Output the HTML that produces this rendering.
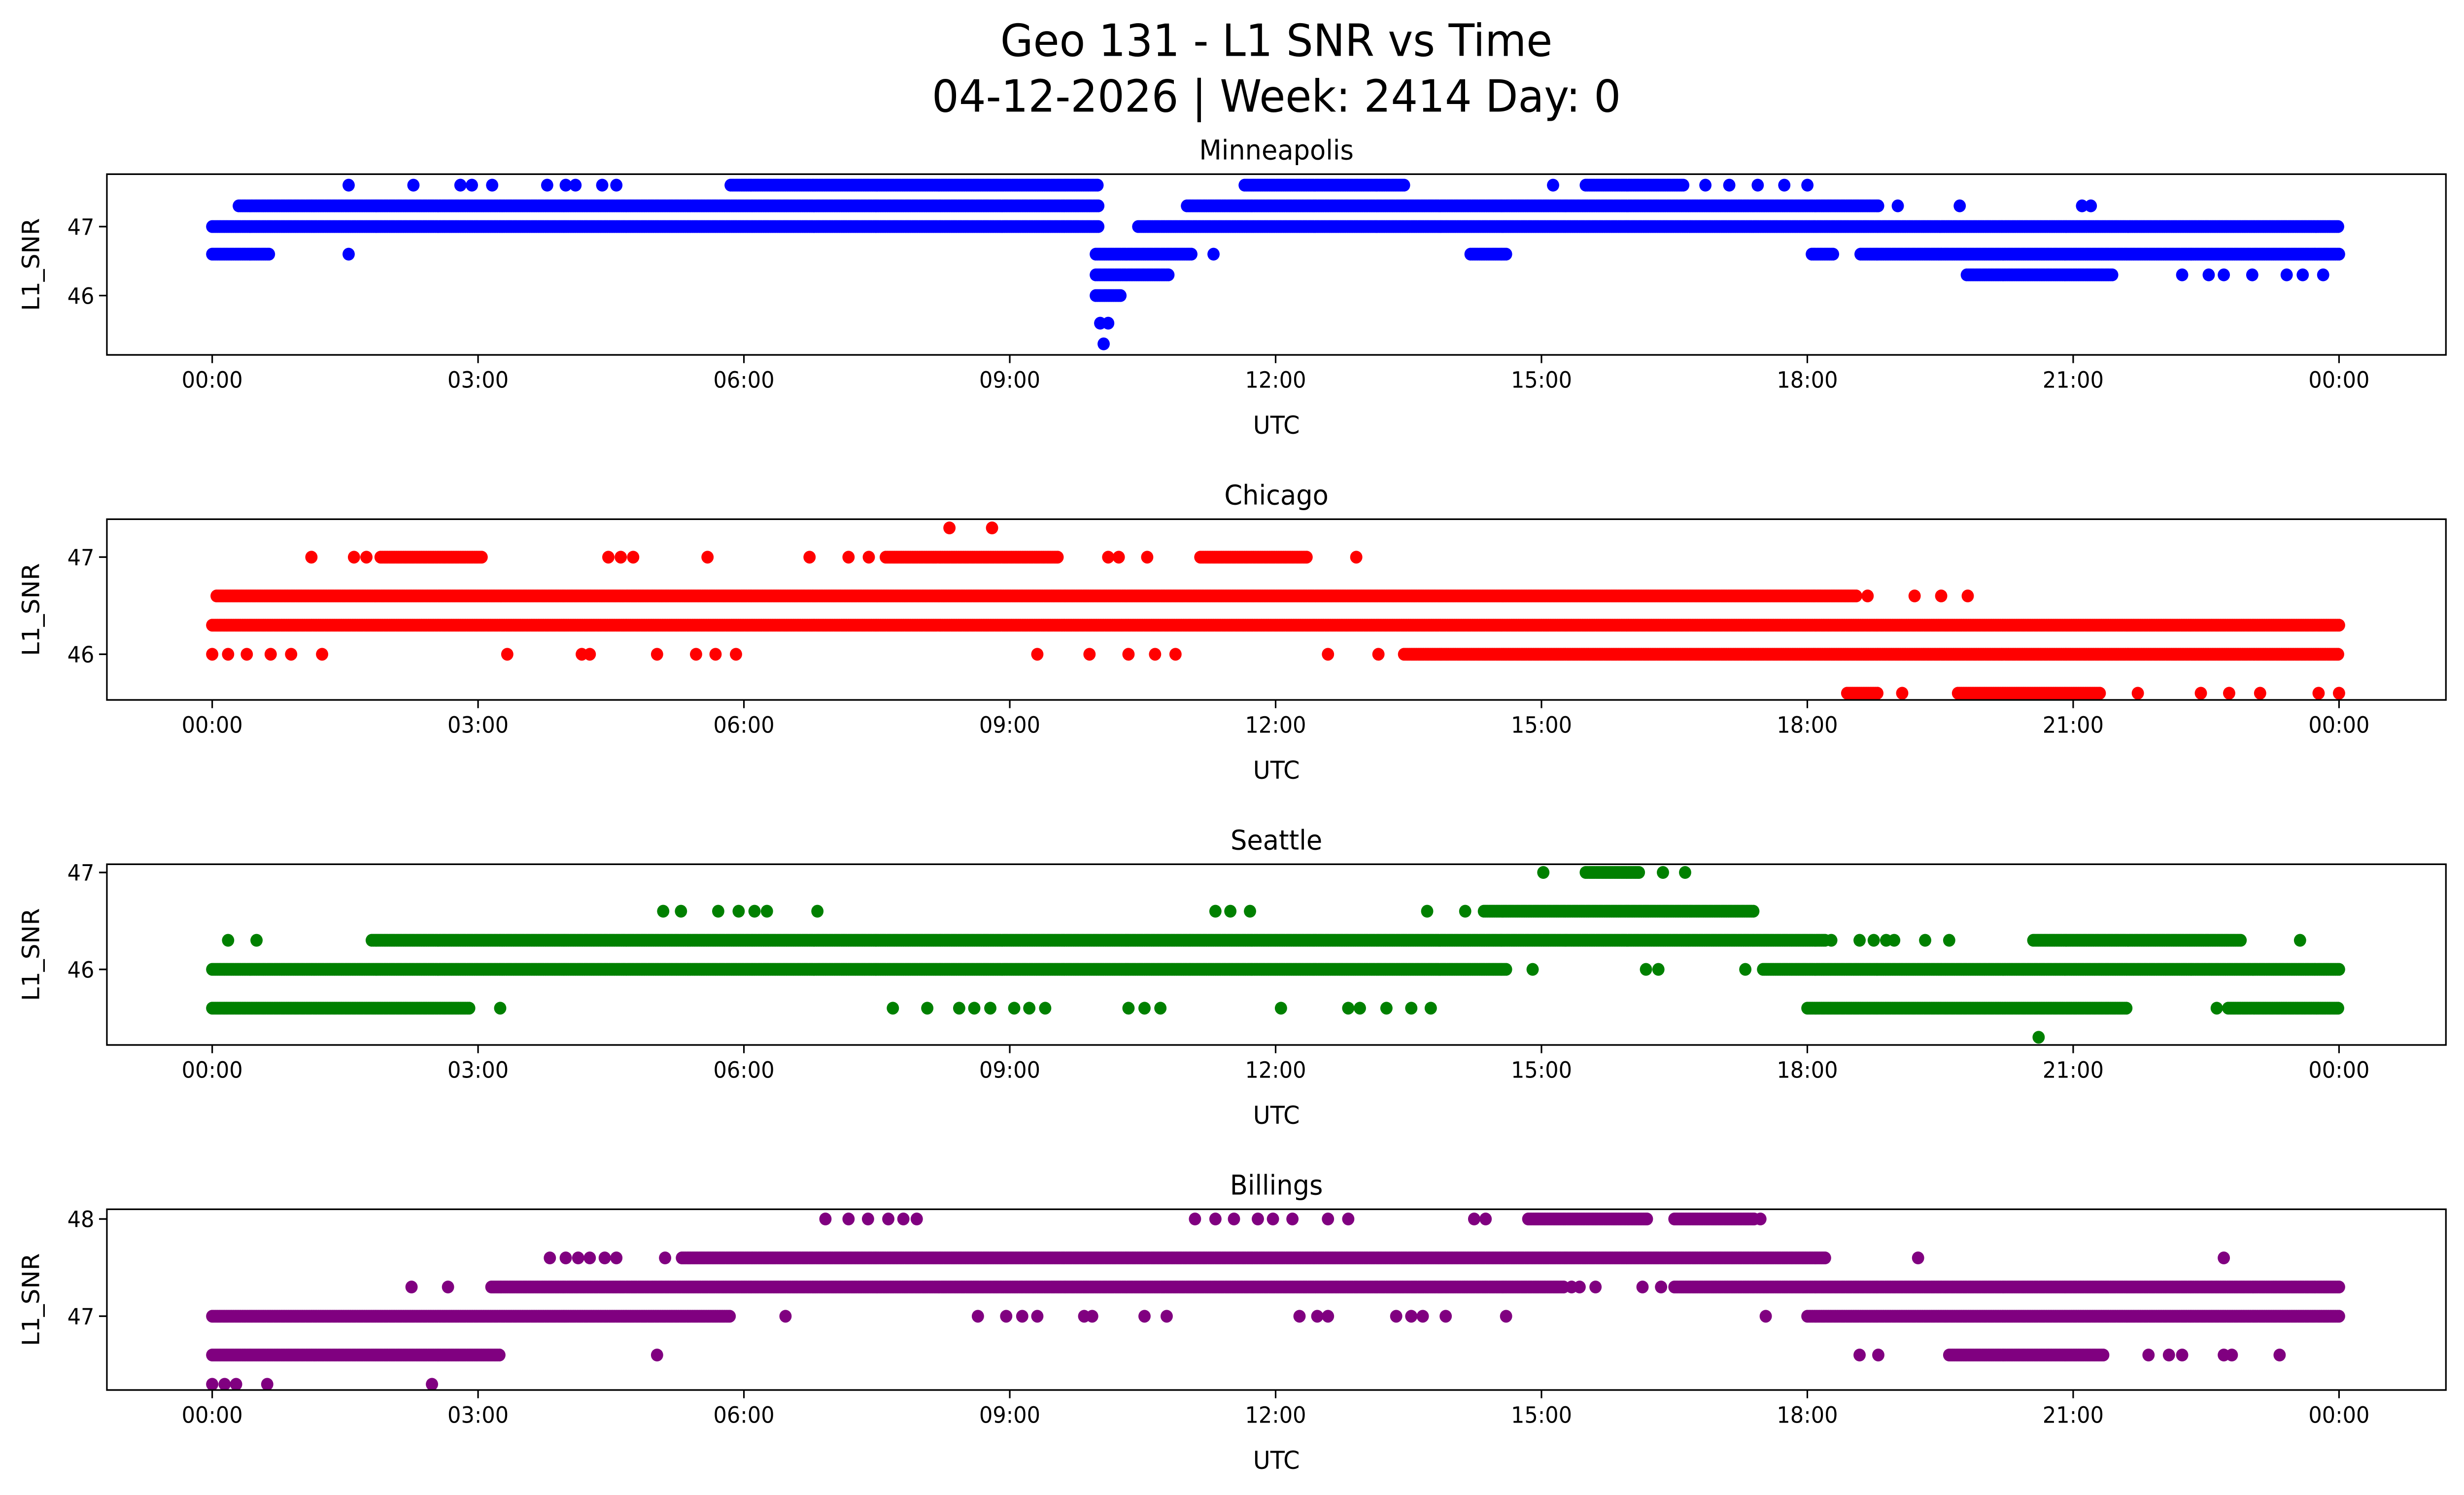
<!DOCTYPE html>
<html><head><meta charset="utf-8">
<style>
html,body{margin:0;padding:0;background:#fff;overflow:hidden;}
svg{display:block;width:100vw;height:100vh;font-family:"DejaVu Sans","Liberation Sans",sans-serif;}
</style></head>
<body>
<svg id="fig" xmlns="http://www.w3.org/2000/svg" width="5225" height="3033" viewBox="0 0 1567.5 909.9" preserveAspectRatio="none">
<rect x="0" y="0" width="1567.5" height="909.9" fill="#fff"/>
<text x="812" y="34" font-size="27" text-anchor="middle">Geo 131 - L1 SNR vs Time</text>
<text x="812" y="68" font-size="27" text-anchor="middle">04-12-2026 | Week: 2414 Day: 0</text>
<g id="plots"></g>
</svg>
<script>
// ===== data (hours UTC, SNR) =====
const stationNames = ["Minneapolis","Chicago","Seattle","Billings"];
const stationColors = ["blue","red","green","purple"];
const yTicks0 = [46,47];
const yTicks1 = [46,47];
const yTicks2 = [46,47];
const yTicks3 = [47,48];
const yLim0 = [45.14,47.76];
const yLim1 = [45.53,47.39];
const yLim2 = [45.22,47.085];
const yLim3 = [46.24,48.1];
const xTickLabels = ["00:00","03:00","06:00","09:00","12:00","15:00","18:00","21:00","00:00"];
const xTickHours = [0,3,6,9,12,15,18,21,24];

// runs: [startHour, endHour, snr]
const runs0 = [[0,10.0,47.0],[10.45,24,47.0],[0.3,10.0,47.3],[11.0,18.8,47.3],[5.85,10.0,47.6],[11.65,13.45,47.6],[15.5,16.6,47.6],
 [0,0.65,46.6],[9.97,11.05,46.6],[14.2,14.6,46.6],[18.05,18.3,46.6],[18.6,24,46.6],[9.97,10.8,46.3],[19.8,21.45,46.3],[9.97,10.25,46.0]];
const points0 = [[1.54,47.6],[2.27,47.6],[2.8,47.6],[2.93,47.6],[3.16,47.6],[3.78,47.6],[3.99,47.6],[4.1,47.6],[4.4,47.6],[4.56,47.6],
 [15.13,47.6],[16.85,47.6],[17.12,47.6],[17.44,47.6],[17.74,47.6],[18.0,47.6],
 [19.02,47.3],[19.72,47.3],[21.1,47.3],[21.2,47.3],[1.54,46.6],[11.3,46.6],
 [22.23,46.3],[22.53,46.3],[22.7,46.3],[23.02,46.3],[23.41,46.3],[23.59,46.3],[23.82,46.3],
 [10.02,45.6],[10.11,45.6],[10.06,45.3]];

const runs1 = [[0.05,18.55,46.6],[0,24,46.3],[13.45,24,46.0],[1.9,3.05,47.0],[7.6,9.55,47.0],[11.15,12.35,47.0],[18.45,18.8,45.6],[19.7,21.3,45.6]];
const points1 = [[18.68,46.6],[19.21,46.6],[19.51,46.6],[19.81,46.6],
 [0,46.0],[0.18,46.0],[0.39,46.0],[0.66,46.0],[0.89,46.0],[1.24,46.0],[3.33,46.0],[4.17,46.0],[4.26,46.0],[5.02,46.0],[5.46,46.0],[5.68,46.0],[5.91,46.0],
 [9.31,46.0],[9.9,46.0],[10.34,46.0],[10.64,46.0],[10.87,46.0],[12.59,46.0],[13.16,46.0],
 [1.12,47.0],[1.6,47.0],[1.74,47.0],[4.47,47.0],[4.61,47.0],[4.75,47.0],[5.59,47.0],[6.74,47.0],[7.18,47.0],[7.41,47.0],[10.11,47.0],[10.23,47.0],[10.55,47.0],[12.91,47.0],
 [8.32,47.3],[8.8,47.3],
 [19.07,45.6],[21.73,45.6],[22.44,45.6],[22.76,45.6],[23.11,45.6],[23.77,45.6],[24,45.6]];

const runs2 = [[0,14.6,46.0],[17.5,24,46.0],[1.8,18.2,46.3],[20.55,22.9,46.3],[14.35,17.4,46.6],[15.5,16.1,47.0],[0,2.9,45.6],[18,21.6,45.6],[22.75,24,45.6]];
const points2 = [[14.9,46.0],[16.18,46.0],[16.32,46.0],[17.3,46.0],
 [0.18,46.3],[0.5,46.3],[18.27,46.3],[18.59,46.3],[18.75,46.3],[18.89,46.3],[18.98,46.3],[19.33,46.3],[19.6,46.3],[23.56,46.3],
 [5.09,46.6],[5.29,46.6],[5.71,46.6],[5.94,46.6],[6.12,46.6],[6.26,46.6],[6.83,46.6],[11.32,46.6],[11.49,46.6],[11.71,46.6],[13.71,46.6],[14.14,46.6],
 [15.02,47.0],[16.37,47.0],[16.62,47.0],
 [3.25,45.6],[7.68,45.6],[8.07,45.6],[8.43,45.6],[8.6,45.6],[8.78,45.6],[9.05,45.6],[9.22,45.6],[9.4,45.6],[10.34,45.6],[10.52,45.6],[10.7,45.6],
 [12.06,45.6],[12.82,45.6],[12.95,45.6],[13.25,45.6],[13.53,45.6],[13.75,45.6],[22.62,45.6],[20.61,45.3]];

const runs3 = [[0,5.85,47.0],[18,24,47.0],[0,3.25,46.6],[19.6,21.35,46.6],[3.15,15.25,47.3],[16.5,24,47.3],[5.3,18.2,47.6],[14.85,16.2,48.0],[16.5,17.4,48.0]];
const points3 = [[6.47,47.0],[8.64,47.0],[8.96,47.0],[9.14,47.0],[9.31,47.0],[9.84,47.0],[9.93,47.0],[10.52,47.0],[10.77,47.0],[12.27,47.0],[12.47,47.0],[12.59,47.0],
 [13.36,47.0],[13.53,47.0],[13.66,47.0],[13.92,47.0],[14.6,47.0],[17.53,47.0],
 [5.02,46.6],[18.59,46.6],[18.8,46.6],[21.85,46.6],[22.08,46.6],[22.23,46.6],[22.7,46.6],[22.79,46.6],[23.33,46.6],
 [0,46.3],[0.14,46.3],[0.27,46.3],[0.62,46.3],[2.48,46.3],
 [2.25,47.3],[2.66,47.3],[15.34,47.3],[15.43,47.3],[15.61,47.3],[16.14,47.3],[16.35,47.3],
 [19.25,47.6],[22.7,47.6],[3.81,47.6],[3.99,47.6],[4.13,47.6],[4.26,47.6],[4.43,47.6],[4.56,47.6],[5.11,47.6],
 [6.92,48.0],[7.18,48.0],[7.4,48.0],[7.63,48.0],[7.8,48.0],[7.95,48.0],[11.09,48.0],[11.32,48.0],[11.53,48.0],[11.8,48.0],[11.97,48.0],[12.19,48.0],
 [12.59,48.0],[12.82,48.0],[14.24,48.0],[14.37,48.0],[17.47,48.0]];

const allRuns = [runs0,runs1,runs2,runs3];
const allPoints = [points0,points1,points2,points3];
const allYTicks = [yTicks0,yTicks1,yTicks2,yTicks3];
const allYLim = [yLim0,yLim1,yLim2,yLim3];

// ===== layout =====
const NS = "http://www.w3.org/2000/svg";
const axL = 68, axR = 1556, axH = 110;
const axTops = [106,316,526,736];
const x0 = 135, x24 = 1488;
function xScale(h){ return x0 + (x24 - x0) * h / 24; }
function yScaleFor(lim, top){ return v => top + axH * (lim[1] - v) / (lim[1] - lim[0]); }
function mk(tag, attrs, parent){ const e = document.createElementNS(NS, tag); for (const k in attrs) e.setAttribute(k, attrs[k]); parent.appendChild(e); return e; }

const root = document.getElementById("plots");
for (let i = 0; i < 4; i++) {
  const top = axTops[i];
  const ys = yScaleFor(allYLim[i], top);
  const g = mk("g", {}, root);
  
  
  const t = mk("text", {x: (axL + axR) / 2, y: top - 9, "font-size": 16.5, "text-anchor": "middle"}, g);
  t.textContent = stationNames[i];
  
  
  const clip = mk("clipPath", {id: "clip" + i}, g);
  mk("rect", {x: axL, y: top, width: axR - axL, height: axH}, clip);
  const pg = mk("g", {"clip-path": "url(#clip" + i + ")", fill: stationColors[i]}, g);
  
  
  const pts = [];
  for (const r of allRuns[i]) { for (let h = r[0]; h <= r[1] + 1e-9; h += 0.02) pts.push([h, r[2]]); }
  for (const p of allPoints[i]) pts.push(p);
  for (const p of pts) {
    const c = mk("circle", {cx: xScale(p[0]).toFixed(1), cy: ys(p[1]).toFixed(1), r: 3.9}, pg);
    
    
  }
  const frame = mk("rect", {x: axL, y: top, width: axR - axL, height: axH, fill: "none", stroke: "#000", "stroke-width": 1}, g);
  
  
  for (let k = 0; k < xTickHours.length; k++) {
    const xx = xScale(xTickHours[k]);
    mk("line", {x1: xx, x2: xx, y1: top + axH, y2: top + axH + 5, stroke: "#000", "stroke-width": 1}, g);
    const tl = mk("text", {x: xx, y: top + axH + 20, "font-size": 13.5, "text-anchor": "middle"}, g);
    tl.textContent = xTickLabels[k];
    
    
  }
  for (const v of allYTicks[i]) {
    const yy = ys(v);
    mk("line", {x1: axL - 5, x2: axL, y1: yy, y2: yy, stroke: "#000", "stroke-width": 1}, g);
    const yl = mk("text", {x: axL - 8, y: yy + 5, "font-size": 13.5, "text-anchor": "end"}, g);
    yl.textContent = String(v);
    
    
  }
  const xl = mk("text", {x: (axL + axR) / 2, y: top + axH + 48, "font-size": 15, "text-anchor": "middle"}, g);
  xl.textContent = "UTC";
  
  
  const yt = mk("text", {x: 0, y: 0, "font-size": 15, "text-anchor": "middle", transform: "translate(25," + (top + axH / 2) + ") rotate(-90)"}, g);
  yt.textContent = "L1_SNR";
  
  
}
</script>
</body></html>
